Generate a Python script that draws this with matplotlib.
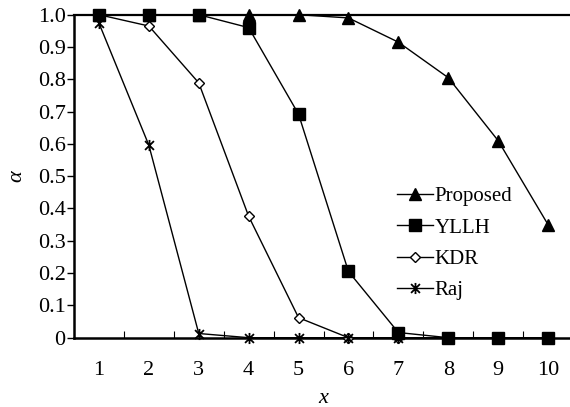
import matplotlib
matplotlib.use("Agg")
import matplotlib.pyplot as plt
from matplotlib.path import Path

x_vals = [1, 2, 3, 4, 5, 6, 7, 8, 9, 10]
proposed = [1.0, 1.0, 1.0, 1.0, 1.0, 0.99, 0.915, 0.805, 0.61, 0.35]
yllh = [1.0, 1.0, 1.0, 0.96, 0.692, 0.205, 0.016, 0.0, 0.0, 0.0]
kdr = [1.0, 0.965, 0.789, 0.376, 0.062, 0.0, 0.0, 0.0, 0.0, 0.0]
raj = [0.974, 0.596, 0.013, 0.0, 0.0, 0.0, 0.0, 0.0, 0.0, 0.0]
y_ticks = [0, 0.1, 0.2, 0.3, 0.4, 0.5, 0.6, 0.7, 0.8, 0.9, 1.0]
y_tick_labels = ["0", "0.1", "0.2", "0.3", "0.4", "0.5", "0.6", "0.7", "0.8", "0.9", "1.0"]

plt.rcParams["font.family"] = ["Liberation Serif", "DejaVu Serif"]
plt.rcParams["font.size"] = 16

# asterisk marker: vertical stroke plus a diagonal cross
star = Path(
    [(0, -1), (0, 1), (-0.8, -0.8), (0.8, 0.8), (-0.8, 0.8), (0.8, -0.8)],
    [Path.MOVETO, Path.LINETO, Path.MOVETO, Path.LINETO, Path.MOVETO, Path.LINETO],
)

fig = plt.figure(figsize=(5.70, 4.07), dpi=100)
ax = fig.add_axes([74 / 570, 1 - 337.7 / 407, 499 / 570, (337.7 - 14.7) / 407])

lw = 1.0
ax.plot(x_vals, kdr, color="black", lw=lw, marker="D", ms=5.5, mfc="white",
        mec="black", mew=1.0, label="KDR", clip_on=False, zorder=3)
ax.plot(x_vals, raj, color="black", lw=lw, marker=star, ms=8, mfc="none",
        mec="black", mew=1.3, label="Raj", clip_on=False, zorder=4)
ax.plot(x_vals, yllh, color="black", lw=lw, marker="s", ms=8, mfc="black",
        mec="black", label="YLLH", clip_on=False, zorder=5)
ax.plot(x_vals, proposed, color="black", lw=lw, marker="^", ms=9, mfc="black",
        mec="black", label="Proposed", clip_on=False, zorder=6)

ax.set_xlim(0.5, 10.5)
ax.set_ylim(0, 1.0)

# category labels at centers, tick marks at the boundaries
ax.set_xticks(x_vals)
ax.set_xticklabels([str(v) for v in x_vals])
ax.tick_params(axis="x", which="major", length=0, pad=17)
ax.set_xticks([v + 0.5 for v in x_vals[:-1]], minor=True)
ax.tick_params(axis="x", which="minor", direction="in", length=5, width=0.8)

ax.set_yticks(y_ticks)
ax.set_yticklabels(y_tick_labels)
ax.tick_params(axis="y", direction="out", length=5, width=1.0, pad=1)

ax.spines["right"].set_visible(False)
ax.spines["left"].set_linewidth(1.8)
ax.spines["bottom"].set_linewidth(1.8)
ax.spines["top"].set_linewidth(1.6)

ax.set_xlabel("x", style="italic", labelpad=6)
ax.set_ylabel("α", style="italic", labelpad=8)

handles, labels = ax.get_legend_handles_labels()
order = [labels.index(n) for n in ("Proposed", "YLLH", "KDR", "Raj")]
ax.legend([handles[i] for i in order], [labels[i] for i in order],
          loc="upper left", bbox_to_anchor=(0.630, 0.493), frameon=False,
          fontsize=15, handlelength=1.73, handletextpad=0.1,
          labelspacing=0.56, borderaxespad=0)

fig.savefig("out.png", dpi=100)
